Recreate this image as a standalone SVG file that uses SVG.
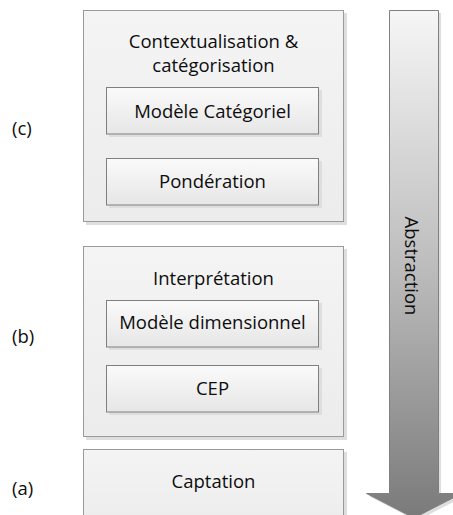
<svg xmlns="http://www.w3.org/2000/svg" width="453" height="515" viewBox="0 0 453 515">
  <defs>
    <linearGradient id="outerFill" x1="0" y1="0" x2="0" y2="1">
      <stop offset="0" stop-color="#f4f4f4"/>
      <stop offset="1" stop-color="#ececec"/>
    </linearGradient>
    <linearGradient id="innerFill" x1="0" y1="0" x2="0" y2="1">
      <stop offset="0" stop-color="#fafafa"/>
      <stop offset="0.5" stop-color="#f0f0f0"/>
      <stop offset="1" stop-color="#e6e6e6"/>
    </linearGradient>
    <linearGradient id="arrowFill" x1="0" y1="0" x2="0" y2="1">
      <stop offset="0" stop-color="#f6f6f6"/>
      <stop offset="0.5" stop-color="#bdbdbd"/>
      <stop offset="1" stop-color="#7a7a7a"/>
    </linearGradient>
    <style>
      .shadow { fill: #dedede; }
      .outer { fill: url(#outerFill); stroke: #9a9a9a; stroke-width: 1; }
      .inner { fill: url(#innerFill); stroke: #7f7f7f; stroke-width: 1; }
      .lbl { font-family: "Open Sans", "Liberation Sans", sans-serif; font-size: 18.5px; fill: #0d0d0d; text-anchor: middle; }
      .tag { font-family: "Open Sans", "Liberation Sans", sans-serif; font-size: 18.5px; fill: #0d0d0d; }
    </style>
  </defs>

  <!-- level tags -->
  <g id="tags">
    <text class="tag" x="12" y="135">(c)</text>
    <text class="tag" x="12" y="343">(b)</text>
    <text class="tag" x="12" y="495">(a)</text>
  </g>

  <!-- (c) contextualisation layer -->
  <g id="layer-c">
    <rect class="shadow" x="86" y="13" width="261" height="212"/>
    <rect class="outer" x="83.5" y="10.5" width="260" height="211"/>
    <text class="lbl" x="213.5" y="48">Contextualisation &amp;</text>
    <text class="lbl" x="213.5" y="72">catégorisation</text>
  </g>
  <g id="modele-categoriel">
    <rect class="shadow" x="109" y="90" width="213" height="47"/>
    <rect class="inner" x="106.5" y="87.5" width="212" height="46.5"/>
    <text class="lbl" x="212.5" y="118">Modèle Catégoriel</text>
  </g>
  <g id="ponderation">
    <rect class="shadow" x="109" y="161" width="213" height="47"/>
    <rect class="inner" x="106.5" y="158.5" width="212" height="46.5"/>
    <text class="lbl" x="212.5" y="188">Pondération</text>
  </g>

  <!-- (b) interpretation layer -->
  <g id="layer-b">
    <rect class="shadow" x="86" y="249" width="261" height="191"/>
    <rect class="outer" x="83.5" y="246.5" width="260" height="190"/>
    <text class="lbl" x="213.5" y="285">Interprétation</text>
  </g>
  <g id="modele-dimensionnel">
    <rect class="shadow" x="109" y="303" width="213" height="47"/>
    <rect class="inner" x="106.5" y="300.5" width="212" height="46.5"/>
    <text class="lbl" x="212.5" y="329">Modèle dimensionnel</text>
  </g>
  <g id="cep">
    <rect class="shadow" x="109" y="368" width="213" height="47"/>
    <rect class="inner" x="106.5" y="365.5" width="212" height="46.5"/>
    <text class="lbl" x="212.5" y="395">CEP</text>
  </g>

  <!-- (a) sensing layer -->
  <g id="captation">
    <rect class="shadow" x="86" y="452" width="261" height="80"/>
    <rect class="outer" x="83.5" y="449.5" width="260" height="80"/>
    <text class="lbl" x="213.5" y="488">Captation</text>
  </g>

  <!-- abstraction arrow -->
  <g id="abstraction">
    <path d="M392,13 H441 V496 H465 L416.5,521 L369,496 H392 Z" fill="#dedede"/>
    <path d="M389.5,10.5 H438.5 V493.5 H461.5 L414,518 L366.5,493.5 H389.5 Z" fill="url(#arrowFill)" stroke="#808080" stroke-width="1"/>
    <text class="lbl" x="0" y="0" transform="translate(405,266) rotate(90)">Abstraction</text>
  </g>
</svg>
